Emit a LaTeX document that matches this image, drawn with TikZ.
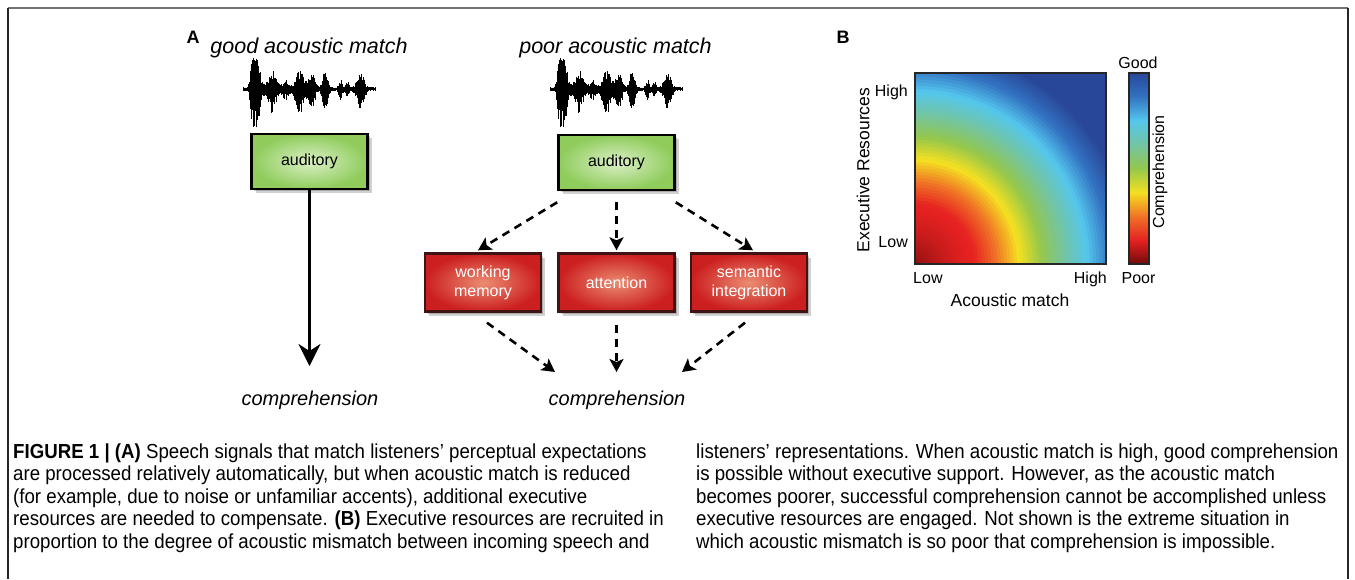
\documentclass[tikz,border=0pt]{standalone}
\usepackage{fontspec}
\setmainfont{Liberation Sans}
\newfontfamily\capfont{Liberation Sans}[FakeStretch=0.92]
\usetikzlibrary{arrows.meta}
\newcommand\fsz[2]{\fontsize{#1}{#2}\selectfont}
\definecolor{cm0}{rgb}{0.45,0.04,0.04}
\definecolor{cm1}{rgb}{0.90,0.13,0.13}
\definecolor{cm2}{rgb}{0.94,0.45,0.15}
\definecolor{cm3}{rgb}{0.96,0.88,0.13}
\definecolor{cm4}{rgb}{0.58,0.78,0.30}
\definecolor{cm5}{rgb}{0.45,0.77,0.64}
\definecolor{cm6}{rgb}{0.33,0.78,0.93}
\definecolor{cm7}{rgb}{0.20,0.45,0.76}
\definecolor{cm8}{rgb}{0.16,0.28,0.60}
\definecolor{gin}{rgb}{0.86,0.94,0.78}
\definecolor{gout}{rgb}{0.56,0.80,0.36}
\definecolor{rin}{rgb}{0.92,0.55,0.45}
\definecolor{rout}{rgb}{0.80,0.12,0.12}
\definecolor{rbord}{rgb}{0.25,0.08,0.08}
\newcommand\setcm[1]{%
  \pgfmathsetmacro\cmv{max(0,min(1,#1))*8}%
  \pgfmathtruncatemacro\cmk{min(7,floor(\cmv))}%
  \pgfmathtruncatemacro\cmj{\cmk+1}%
  \pgfmathtruncatemacro\cmp{round((\cmv-\cmk)*100)}%
  \colorlet{cur}{cm\cmj!\cmp!cm\cmk}}
\newcommand\wave[2]{%
  \pgfmathsetseed{7}%
  \draw[line width=0.8pt] (#1,#2) -- ++(132,0);
  \foreach \k in {0,...,264} {
    \pgfmathsetmacro\fx{\k/264}
    \pgfmathsetmacro\env{0.06+g(\fx,0.10,0.035)+0.5*g(\fx,0.07,0.02)+0.6*g(\fx,0.22,0.04)+0.25*g(\fx,0.32,0.03)+0.6*g(\fx,0.43,0.04)+0.5*g(\fx,0.52,0.03)+0.55*g(\fx,0.62,0.025)+0.25*g(\fx,0.74,0.02)+0.25*g(\fx,0.79,0.015)+0.5*g(\fx,0.89,0.035)}
    \pgfmathsetmacro\up{min(31,\env*31*(0.35+0.65*rnd))}
    \pgfmathsetmacro\dn{min(38,\env*38*(0.35+0.65*rnd))}
    \draw[line width=0.9pt] ({#1+\fx*132},{#2-\up}) -- ({#1+\fx*132},{#2+\dn});
  }}
\tikzset{
  declare function={g(\x,\c,\w)=exp(max(-15,-((\x-\c)/\w)^2));},
  greenbox/.style={draw=black, line width=2.6pt, inner color=gin, outer color=gout,
    minimum width=116pt, minimum height=55pt, inner sep=0pt, font=\fsz{16}{19},
    preaction={fill=black, opacity=0.18, transform canvas={shift={(4pt,-4pt)}}},
    preaction={fill=black, opacity=0.18, transform canvas={shift={(2pt,-2pt)}}}},
  redbox/.style={draw=rbord, line width=2.4pt, inner color=rin, outer color=rout,
    minimum width=116pt, minimum height=58pt, inner sep=0pt, text=white, align=center,
    font=\fsz{16}{19},
    preaction={fill=black, opacity=0.18, transform canvas={shift={(4pt,-4pt)}}},
    preaction={fill=black, opacity=0.18, transform canvas={shift={(2pt,-2pt)}}}},
  dasharrow/.style={line width=2.6pt, dash pattern=on 8pt off 6pt,
    -{Stealth[length=13pt,width=14pt,inset=3pt]}},
  solidarrow/.style={line width=2.6pt, -{Stealth[length=22pt,width=22pt,inset=7pt]}},
  ttl/.style={font=\itshape\fsz{21.5}{24}, inner sep=0pt, anchor=base},
  lab/.style={font=\fsz{16}{19}, inner sep=0pt},
  capl/.style={font=\capfont\fsz{20.3}{22}, inner sep=0pt, anchor=base west},
}
\begin{document}
\begin{tikzpicture}[x=1pt,y=-1pt]
\useasboundingbox (0,0) rectangle (1355,579);
\fill[white] (0,0) rectangle (1355,579);
% frame
\draw[black!55, line width=1.6pt] (8,8) -- (1348,8);
\draw[black!85, line width=1.5pt] (8,8) -- (8,579);
\draw[black!85, line width=1.5pt] (1348,8) -- (1348,579);

% Panel A
\node[font=\bfseries\fsz{18}{20}, inner sep=0pt, anchor=base] (lA) at (193,43) {A};
\node[ttl] (t1) at (309,53) {good acoustic match};
\node[ttl] (t2) at (615.5,53) {poor acoustic match};
\wave{243}{89}
\wave{550}{89}
\node[greenbox] (aud1) at (309.5,161.5) {auditory};
\node[greenbox] (aud2) at (616.5,162.5) {auditory};
\node[redbox] (wm) at (483,282.5) {working\\memory};
\node[redbox] (att) at (616.5,282.5) {attention};
\node[redbox] (si) at (749,282.5) {semantic\\integration};
\node[ttl, font=\itshape\fsz{20}{24}] (comp1) at (310,405) {comprehension};
\node[ttl, font=\itshape\fsz{20}{24}] (comp2) at (617,405) {comprehension};
\coordinate (c1) at (310,366);
\coordinate (c2) at (617,372);
\draw[solidarrow] (aud1.south) -- (aud1.south |- c1);
\draw[dasharrow] ([yshift=-11pt]aud2.south west) -- ([xshift=-5pt,yshift=2pt]wm.north);
\draw[dasharrow] ([yshift=-11pt]aud2.south) -- ([yshift=2pt]att.north);
\draw[dasharrow] ([yshift=-11pt]aud2.south east) -- ([xshift=4pt,yshift=2pt]si.north);
\draw[dasharrow] ([xshift=4pt,yshift=-10pt]wm.south) -- ([xshift=-62pt]c2);
\draw[dasharrow] ([yshift=-12pt]att.south) -- (att.south |- c2);
\draw[dasharrow] ([xshift=-4pt,yshift=-10pt]si.south) -- ([xshift=65pt]c2);

% Panel B
\node[font=\bfseries\fsz{18}{20}, inner sep=0pt, anchor=base] (lB) at (843,43) {B};
\begin{scope}
  \clip (915,73) rectangle (1106,264);
  \fill[cm8] (915,73) rectangle (1106,264);
  \foreach \i in {90,89,...,1} {
    \pgfmathsetmacro\rn{\i/60}
    \pgfmathsetmacro\vv{\rn<0.32 ? 0.13*sqrt(\rn/0.32) : 0.13+(\rn-0.32)*1.05}
    \setcm{\vv}
    \pgfmathsetmacro\rp{\rn*191}
    \fill[cur] (915,264) -- plot[domain=0:90,samples=30] ({915+\rp*cos(\x)},{264-\rp*sin(\x)}) -- cycle;
  }
\end{scope}
\node[draw=black!85, line width=2.5pt, minimum width=191pt, minimum height=191pt, inner sep=0pt, outer sep=0pt] (hm) at (1010.5,168.5) {};
\foreach \k in {0,...,7} {
  \pgfmathtruncatemacro\j{\k+1}
  \shade[bottom color=cm\k, top color=cm\j] (1129,{264-\k*191/8+0.3}) rectangle (1149,{264-\j*191/8-0.3});
}
\node[draw=black!85, line width=2.5pt, minimum width=20pt, minimum height=191pt, inner sep=0pt, outer sep=0pt] (cb) at (1139,168.5) {};
\node[lab, anchor=base east] (hh) at (908,96) {High};
\node[lab, anchor=base east] (hl) at (908,247) {Low};
\node[lab, anchor=base west] (al) at (913,283) {Low};
\node[lab, anchor=base east] (ah) at (1107,283) {High};
\node[lab, font=\fsz{17.5}{20}, rotate=90] (er) at (863,170) {Executive Resources};
\node[lab, font=\fsz{17.5}{20}, anchor=base] (am) at (1010,306) {Acoustic match};
\node[lab, anchor=base] (good) at (1138,68) {Good};
\node[lab, anchor=base] (poor) at (1138.5,283) {Poor};
\node[lab, rotate=90] (compr) at (1160,172) {Comprehension};

% caption
\node[capl] (cl1) at (13,458) {\textbf{FIGURE 1 | (A)} Speech signals that match listeners’ perceptual expectations};
\node[capl] (cl2) at (13,480.5) {are processed relatively automatically, but when acoustic match is reduced};
\node[capl] (cl3) at (13,503) {(for example, due to noise or unfamiliar accents), additional executive};
\node[capl] (cl4) at (13,525.5) {resources are needed to compensate. \textbf{(B)} Executive resources are recruited in};
\node[capl] (cl5) at (13,548) {proportion to the degree of acoustic mismatch between incoming speech and};
\node[capl] (cr1) at (696,458) {listeners’ representations. When acoustic match is high, good comprehension};
\node[capl] (cr2) at (696,480.5) {is possible without executive support. However, as the acoustic match};
\node[capl] (cr3) at (696,503) {becomes poorer, successful comprehension cannot be accomplished unless};
\node[capl] (cr4) at (696,525.5) {executive resources are engaged. Not shown is the extreme situation in};
\node[capl] (cr5) at (696,548) {which acoustic mismatch is so poor that comprehension is impossible.};
\end{tikzpicture}
\end{document}
